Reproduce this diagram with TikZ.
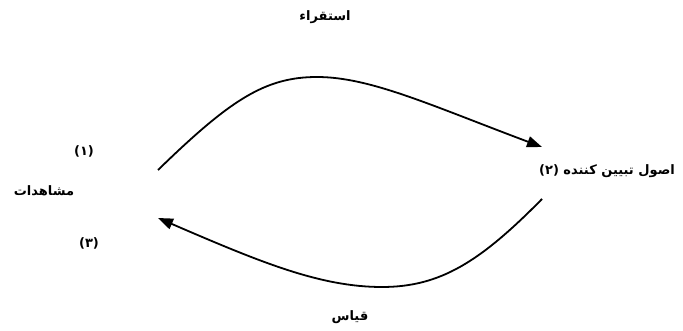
\documentclass[tikz,border=0pt]{standalone}
\usepackage{fontspec}
\usetikzlibrary{arrows.meta}
\TeXXeTstate=1
\newfontfamily\arabicfont[Script=Arabic]{DejaVu Sans}
\begin{document}
\begin{tikzpicture}[x=1pt,y=-1pt,
  lbl/.style={inner sep=0pt,font=\arabicfont\bfseries\fontsize{13}{15}\selectfont},
  flow/.style={line width=1.8pt,-{Triangle[length=15pt,width=11pt]}}]
\useasboundingbox (0,0) rectangle (683,331);
\node[lbl] (induct) at (325,17) {\beginR استقراء\endR};
\node[lbl] (n1) at (84,151) {\beginR (۱)\endR};
\node[lbl] (obs) at (44,191) {\beginR مشاهدات\endR};
\node[lbl] (n3) at (89,243) {\beginR (۳)\endR};
\node[lbl] (expl) at (607,171) {\beginR اصول تبیین کننده (۲)\endR};
\node[lbl] (deduct) at (350,317) {\beginR قیاس\endR};
\coordinate (a0) at (158,170);
\coordinate (a1) at (542,147);
\coordinate (b0) at (542,199);
\coordinate (b1) at (158,218);
\draw[flow] (a0) .. controls (230,100) and (265,77) .. (317,77)
  .. controls (370,77) and (430,105) .. (a1);
\draw[flow] (b0) .. controls (480,262) and (440,287) .. (382,287)
  .. controls (320,287) and (260,262) .. (b1);
\end{tikzpicture}
\end{document}
